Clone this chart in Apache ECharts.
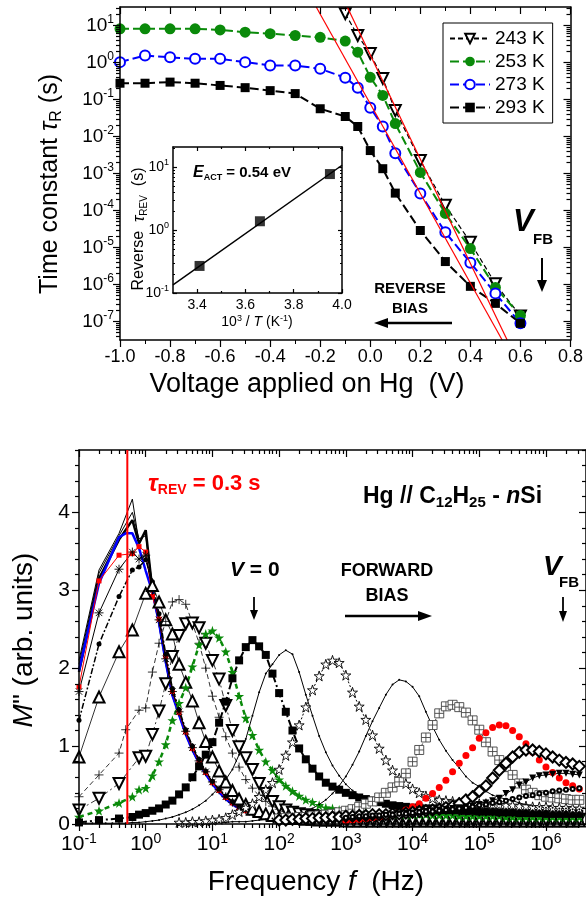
<!DOCTYPE html>
<html><head><meta charset="utf-8">
<script src="https://cdn.jsdelivr.net/npm/echarts@6/dist/echarts.min.js"></script>
<style>html,body{margin:0;padding:0;background:#fff}#c{width:586px;height:899px}</style>
</head><body><div id="c"></div><script>
const _ = null;
// ---------- TOP PANEL: time constant vs voltage (log10 of tau in s) ----------
const VOLTAGE_V = [-1.0,-0.9,-0.8,-0.7,-0.6,-0.5,-0.4,-0.3,-0.2,-0.1,-0.05,0.0,0.05,0.1,0.2,0.3,0.4,0.5,0.6];
const LOG10_TAU_243K = [_,_,_,_,_,_,_,_,_,1.32,0.73,0.24,-0.43,-1.30,-2.65,-3.86,-4.86,-5.98,-6.85];
const LOG10_TAU_253K = [0.91,0.91,0.91,0.91,0.88,0.82,0.78,0.73,0.68,0.58,0.28,-0.40,-0.89,-1.65,-2.97,-4.08,-5.03,-6.08,-6.84];
const LOG10_TAU_273K = [0.01,0.19,0.14,0.10,0.10,0.01,-0.08,-0.08,-0.17,-0.41,-0.68,-1.22,-1.73,-2.45,-3.54,-4.59,-5.41,-6.24,-7.05];
const LOG10_TAU_293K = [-0.56,-0.56,-0.53,-0.56,-0.62,-0.68,-0.76,-0.84,-1.25,-1.46,-1.73,-2.38,-2.87,-3.53,-4.54,-5.38,-6.05,-6.51,-7.05];
const FIT_A_V = [-0.216, 0.527], FIT_A_LOG10_TAU = [1.5, -7.5];
const FIT_B_V = [-0.092, 0.547], FIT_B_LOG10_TAU = [1.5, -7.5];
const TOP_Y_DECADES = [-7,-6,-5,-4,-3,-2,-1,0,1];
// inset: Arrhenius plot
const INSET_INV_T = [3.41, 3.66, 3.95];
const INSET_LOG10_TAU = [-0.57, 0.14, 0.89];
const INSET_FIT_INV_T = [3.3, 4.0], INSET_FIT_LOG10_TAU = [-0.87, 1.03];
const INSET_X_TICKS = [3.4, 3.6, 3.8, 4.0];
const INSET_X_MINOR = [3.5, 3.7, 3.9];
const INSET_Y_DECADES = [-1, 0, 1];
// ---------- BOTTOM PANEL: M'' vs log10(frequency / Hz) ----------
const BOT_X_DECADES = [-1,0,1,2,3,4,5,6];
const BOT_Y_TICKS = [0,1,2,3,4];
const BOT_Y_MINOR = [0.2,0.4,0.6,0.8,1.2,1.4,1.6,1.8,2.2,2.4,2.6,2.8,3.2,3.4,3.6,3.8,4.2,4.4,4.6,4.8];
const TAU_REV_LINE_FREQ_HZ = 0.53;
const LOG10_F_HZ = [
-1.0,-0.9,-0.8,-0.7,-0.6,-0.5,-0.4,-0.3,-0.2,-0.1,
0.0,0.1,0.2,0.3,0.4,0.5,0.6,0.7,0.8,0.9,
1.0,1.1,1.2,1.3,1.4,1.5,1.6,1.7,1.8,1.9,
2.0,2.1,2.2,2.3,2.4,2.5,2.6,2.7,2.8,2.9,
3.0,3.1,3.2,3.3,3.4,3.5,3.6,3.7,3.8,3.9,
4.0,4.1,4.2,4.3,4.4,4.5,4.6,4.7,4.8,4.9,
5.0,5.1,5.2,5.3,5.4,5.5,5.6,5.7,5.8,5.9,
6.0,6.1,6.2,6.3,6.4,6.5];
const M_REV_A = [2.10,_,_,3.26,_,_,3.73,_,4.17,3.60,
3.75,3.05,2.64,2.14,1.70,1.44,1.19,0.98,0.81,0.67,
0.54,0.44,0.35,0.28,0.22,0.18,0.14,0.12,0.10,0.08,
0.07,0.06,0.05,0.05,0.04];
const M_REV_B = [2.05,_,_,3.22,_,_,3.70,_,4.00,3.66,
3.70,3.03,2.62,2.12,1.68,1.43,1.18,0.97,0.80,0.66,
0.53,0.43,0.34,0.27,0.21,0.17,0.14,0.11,0.09,0.08,
0.07,0.06,0.05,0.04,0.04];
const M_REV_C = [1.95,_,_,3.15,_,_,3.65,_,3.90,3.60,
3.77,3.00,2.60,2.10,1.67,1.42,1.17,0.96,0.79,0.65,
0.52,0.42,0.33,0.26,0.21,0.17,0.13,0.11,0.09,0.07,
0.06,0.05,0.05,0.04];
const M_REV_BLUE = [1.97,_,_,3.09,_,_,3.68,3.73,3.73,3.54,
3.25,2.98,2.58,2.08,1.65,1.40,1.15,0.95,0.78,0.64,
0.51,0.41,0.32,0.25,0.20,0.16,0.13,0.11,0.10,0.11];
const M_REV_RED = [1.76,_,_,3.12,_,_,3.45,_,3.47,3.56,
3.49,2.92,2.63,2.15,1.70,1.43,1.18,0.97,0.80,0.66,
0.53,0.43,0.34,0.27,0.21,0.17,0.15,0.12,0.10,0.08,
0.07,0.06,0.05];
const M_REV_AST = [1.70,_,_,2.71,_,_,3.27,_,3.49,3.40,
3.45,3.00,2.62,2.12,1.70,1.44,1.19,0.98,0.81,0.67,
0.54,0.44,0.35,0.28,0.22,0.18,0.15,0.12,0.10,0.09,
0.08,0.07,0.06,0.06,0.05,0.05,0.05,0.04,0.04,0.04,
0.04,0.04,0.04,0.03,0.03,0.03,0.03,0.03,0.03,0.03,
0.03,0.03,0.03,0.03,0.03,0.03,0.03,0.03,0.03,0.03,
0.03,0.03,0.03,0.03,0.03,0.03,0.03,0.03,0.03,0.03,
0.03,0.03,0.03,0.03,0.03,0.03];
const M_REV_DOT = [1.33,_,_,2.31,_,_,2.92,_,3.26,3.30,
3.39,3.11,2.70,2.18,1.74,1.47,1.21,1.00,0.83,0.68,
0.55,0.45,0.36,0.29,0.23,0.19,0.15,0.13,0.11,0.09,
0.08,0.07,0.06,0.05,0.05,0.04,0.04,0.04,0.03,0.03,
0.03,0.03,0.02,0.02,0.02,0.02,0.02,0.02,0.02,0.02,
0.02,0.02,0.02,0.02,0.02,0.02,0.02,0.02,0.02,0.02,
0.02,0.02,0.02,0.02,0.02,0.02,0.02,0.02,0.02,0.02,
0.02,0.02,0.02,0.02,0.02,0.02];
const M_REV_TRI = [0.86,_,_,1.63,_,_,2.21,_,2.49,_,
2.96,3.06,2.85,2.62,2.44,2.05,1.82,1.58,1.30,1.06,
0.86,0.68,0.54,0.43,0.32,0.25,0.19,0.16,0.13,0.11,
0.09,0.08,0.07,0.07,0.06,0.06,0.05,0.05,0.05,0.05,
0.04,0.04,0.04,0.04,0.04,0.04,0.04,0.04,0.04,0.04,
0.04,0.04,0.04,0.04,0.04,0.04,0.04,0.04,0.04,0.04,
0.04,0.04,0.04,0.04,0.04,0.04,0.04,0.04,0.04,0.04,
0.04,0.04,0.04,0.04,0.04,0.04];
const M_PLUS = [0.35,_,_,0.63,_,_,0.91,1.21,_,1.46,
1.49,1.95,2.32,2.60,2.85,2.88,2.82,2.58,2.32,2.00,
1.64,1.37,1.12,0.91,0.73,0.57,0.46,0.36,0.29,0.23,
0.19,0.16,0.14,0.12,0.11,0.10,0.09,0.09,0.08,0.08,
0.07,0.07,0.07,0.06,0.06,0.06,0.06,0.06,0.05,0.05,
0.05,0.05,0.05,0.05,0.05,0.05,0.05,0.05,0.05,0.05,
0.05,0.05,0.05,0.05,0.05,0.05,0.05,0.05,0.05,0.05,
0.05,0.05,0.05,0.05,0.05,0.05];
const M_DTRI = [0.18,_,_,0.33,_,_,0.52,_,_,0.85,
0.87,1.15,1.45,1.80,2.15,2.42,2.57,2.58,2.52,2.32,
2.10,1.86,1.52,1.20,0.99,0.85,0.70,0.52,0.39,0.29,
0.22,0.18,0.15,0.13,0.12,0.11,0.10,0.09,0.08,0.08,
0.07,0.07,0.07,0.06,0.06,0.06,0.06,0.06,0.06,0.06,
0.06,0.06,0.06,0.06,0.06,0.06,0.06,0.06,0.06,0.06,
0.06,0.06,0.06,0.06,0.06,0.06,0.06,0.06,0.06,0.06,
0.06,0.06,0.06,0.06,0.06,0.06];
const M_STAR_GREEN = [0.09,_,_,0.17,_,_,0.27,_,0.35,0.44,
0.46,0.62,0.80,1.02,1.33,1.55,1.75,2.02,2.30,2.44,
2.48,2.39,2.21,1.95,1.64,1.36,1.14,0.95,0.80,0.69,
0.57,0.49,0.42,0.36,0.31,0.28,0.24,0.21,0.20,0.18,
0.17,0.16,0.16,0.15,0.14,0.14,0.13,0.13,0.13,0.12,
0.12,0.12,0.12,0.11,0.11,0.11,0.11,0.10,0.10,0.10,
0.10,0.10,0.10,0.10,0.09,0.09,0.09,0.09,0.09,0.09,
0.09,0.09,0.09,0.09,0.09,0.09];
const M_SQUARE_V0 = [0.02,_,_,0.05,_,_,0.07,_,0.09,0.12,
0.14,0.17,0.20,0.25,0.30,0.38,0.47,0.60,0.74,0.89,
1.05,1.30,1.57,1.87,2.10,2.27,2.36,2.28,2.17,1.93,
1.68,1.44,1.20,0.97,0.83,0.71,0.61,0.53,0.48,0.44,
0.40,0.37,0.34,0.32,0.30,0.28,0.26,0.24,0.23,0.22,
0.21,0.21,0.20,0.20,0.19,0.19,0.18,0.18,0.17,0.17,
0.16,0.16,0.16,0.15,0.15,0.15,0.14,0.14,0.14,0.14,
0.13,0.13,0.13,0.13,0.13,0.13];
const M_LINE_A = [0.01,0.01,0.01,0.01,0.01,0.01,0.01,0.01,0.02,0.02,
0.03,0.04,0.05,0.07,0.09,0.12,0.15,0.19,0.24,0.30,
0.38,0.47,0.57,0.70,0.89,1.09,1.39,1.69,1.93,2.05,
2.17,2.23,2.18,1.95,1.66,1.39,1.13,0.92,0.75,0.62,
0.51,0.43,0.37,0.32,0.29,0.26,0.24,0.22,0.20,0.18,
0.17,0.16,0.15,0.14,0.13,0.13,0.12,0.12,0.12,0.11,
0.11,0.11,0.11,0.10,0.10,0.10,0.10,0.10,0.10,0.10,
0.10,0.10,0.10,0.10,0.10,0.10];
const M_STAR_OPEN = [_,_,_,_,_,_,_,_,_,_,
_,_,_,_,_,0.02,0.02,0.03,0.03,0.04,
0.05,0.06,0.08,0.12,0.16,0.21,0.26,0.35,0.44,0.53,
0.70,0.88,1.05,1.27,1.50,1.72,1.90,2.05,2.10,2.07,
1.91,1.69,1.51,1.34,1.14,0.97,0.82,0.69,0.59,0.52,
0.45,0.40,0.36,0.33,0.31,0.30,0.29,0.28,0.27,0.27,
0.26,0.26,0.25,0.25,0.24,0.24,0.23,0.23,0.22,0.22,
0.22,0.21,0.21,0.21,0.20,0.20];
const M_LINE_B = [_,_,_,_,_,_,_,_,_,_,
_,_,_,_,_,_,_,_,_,_,
0.02,0.02,0.02,0.03,0.03,0.03,0.04,0.05,0.06,0.07,
0.08,0.09,0.11,0.13,0.16,0.20,0.25,0.31,0.39,0.49,
0.61,0.76,0.93,1.13,1.32,1.49,1.66,1.79,1.85,1.83,
1.76,1.64,1.44,1.25,1.08,0.94,0.82,0.72,0.61,0.53,
0.48,0.42,0.37,0.34,0.32,0.30,0.27,0.25,0.23,0.22,
0.21,0.21,0.20,0.20,0.19,0.19];
const M_BOXPLUS = [_,_,_,_,_,_,_,_,_,_,
_,_,_,_,_,_,_,_,_,_,
_,_,_,_,_,_,_,_,_,_,
0.07,0.08,0.08,0.09,0.09,0.10,0.11,0.12,0.13,0.15,
0.17,0.19,0.22,0.26,0.29,0.34,0.40,0.47,0.54,0.65,
0.80,0.95,1.11,1.27,1.42,1.51,1.53,1.50,1.43,1.33,
1.21,1.05,0.93,0.82,0.73,0.63,0.52,0.44,0.40,0.37,
0.35,0.34,0.33,0.32,0.31,0.31];
const M_RED_CIRCLE = [_,_,_,_,_,_,_,_,_,_,
_,_,_,_,_,_,_,_,_,_,
_,_,_,_,_,_,_,_,_,_,
_,_,_,_,_,_,_,_,_,_,
0.04,0.05,0.06,0.07,0.08,0.09,0.10,0.12,0.15,0.18,
0.22,0.26,0.33,0.39,0.47,0.56,0.67,0.78,0.88,0.98,
1.10,1.17,1.24,1.27,1.26,1.20,1.12,1.03,0.92,0.82,
0.73,0.66,0.59,0.53,0.49,0.45];
const M_DIAMOND = [_,_,_,_,_,_,_,_,_,_,
_,_,_,_,_,_,_,_,_,_,
_,_,_,_,_,_,_,_,_,_,
0.05,0.05,0.06,0.06,0.07,0.07,0.08,0.08,0.09,0.09,
0.10,0.10,0.11,0.11,0.12,0.12,0.12,0.13,0.13,0.14,
0.15,0.16,0.17,0.18,0.19,0.21,0.23,0.26,0.31,0.35,
0.42,0.49,0.59,0.69,0.78,0.86,0.92,0.95,0.95,0.93,
0.90,0.86,0.82,0.79,0.77,0.74];
const M_FILLED_DTRI = [_,_,_,_,_,_,_,_,_,_,
_,_,_,_,_,_,_,_,_,_,
_,_,_,_,_,_,_,_,_,_,
_,_,_,_,_,_,_,_,_,_,
0.06,0.07,0.07,0.08,0.09,0.10,0.11,0.12,0.13,0.14,
0.14,0.15,0.16,0.17,0.18,0.19,0.20,0.21,0.22,0.23,
0.25,0.27,0.30,0.33,0.39,0.44,0.50,0.54,0.59,0.62,
0.63,0.64,0.65,0.65,0.64,0.63];
const M_SMALL_CIRCLE = [_,_,_,_,_,_,_,_,_,_,
_,_,_,_,_,_,_,_,_,_,
_,_,_,_,_,_,_,_,_,_,
_,_,_,_,_,_,_,_,_,_,
0.08,0.09,0.10,0.10,0.11,0.11,0.12,0.12,0.13,0.13,
0.14,0.15,0.16,0.16,0.17,0.18,0.19,0.20,0.21,0.22,
0.24,0.25,0.27,0.28,0.30,0.32,0.34,0.36,0.37,0.39,
0.40,0.42,0.43,0.44,0.45,0.46];

// ---------- helpers ----------
const FONT = 'Arial, "Liberation Sans", Helvetica, sans-serif';
const GREEN = '#0a8a0a', BLUE = '#0000ff', RED = '#ff0000';
function pts(xs, ys){ const o=[]; for(let i=0;i<ys.length;i++){ if(ys[i]!=null) o.push([xs[i], ys[i]]); } return o; }
function logMinor(lo, hi){ const o=[]; for(let n=Math.floor(lo)-1;n<=Math.ceil(hi);n++){ for(let k=2;k<=9;k++){ const v=n+Math.log10(k); if(v>lo+1e-6 && v<hi-1e-6) o.push(v);} } return o; }
function supRich(b, e, eLH){ return { b:{fontSize:b, fontFamily:FONT, color:'#000', lineHeight:b+4}, e:{fontSize:e, fontFamily:FONT, color:'#000', verticalAlign:'top', lineHeight:eLH} }; }
const supFmt = v => '{b|10}{e|' + Math.round(v) + '}';
function mkAxis(o){
  const a = { type:'value', gridIndex:o.g, min:o.min, max:o.max, position:o.pos,
    axisLine:{show:o.line!==false, onZero:false, lineStyle:{color:'#000', width:1.5}},
    axisTick:{show:true, inside:!!o.inside, length:o.len, lineStyle:{color:'#000', width:o.tw||1.2}},
    axisLabel:{show:false}, splitLine:{show:false}, minorSplitLine:{show:false}, z:5 };
  if(o.interval!=null) a.interval=o.interval;
  if(o.ticks) a.axisTick.customValues=o.ticks;
  if(o.minor) a.minorTick={show:true, splitNumber:o.minor, length:o.minorLen, lineStyle:{color:'#000', width:1}};
  if(o.label) a.axisLabel=Object.assign({show:true, color:'#000', fontFamily:FONT}, o.label);
  return a;
}
const topMinorY = logMinor(-7.5, 1.5), insetMinorY = logMinor(-1, 1.32), botMinorX = logMinor(-1, 6.6);
const xAxes = [
  mkAxis({g:0,min:-1,max:0.8,interval:0.2,pos:'bottom',len:7,minor:2,minorLen:4,
    label:{fontSize:18,margin:8,formatter:v=>(Math.abs(v)<1e-9?0:v).toFixed(1)}}),
  mkAxis({g:0,min:-1,max:0.8,interval:0.2,pos:'top',inside:true,len:7,minor:2,minorLen:4}),
  mkAxis({g:1,min:3.3,max:4.0,pos:'bottom',inside:true,len:4,ticks:INSET_X_TICKS,
    label:{customValues:INSET_X_TICKS,fontSize:14,margin:5,formatter:v=>v.toFixed(1)}}),
  mkAxis({g:1,min:3.3,max:4.0,pos:'bottom',inside:true,line:false,len:2,ticks:INSET_X_MINOR}),
  mkAxis({g:1,min:3.3,max:4.0,pos:'top',inside:true,len:4,ticks:INSET_X_TICKS}),
  mkAxis({g:1,min:3.3,max:4.0,pos:'top',inside:true,line:false,len:2,ticks:INSET_X_MINOR}),
  mkAxis({g:2,min:-1,max:6.6,pos:'bottom',len:7,ticks:BOT_X_DECADES,
    label:{customValues:BOT_X_DECADES,formatter:supFmt,margin:8,rich:supRich(21,14,10)}}),
  mkAxis({g:2,min:-1,max:6.6,pos:'bottom',line:false,len:4,ticks:botMinorX}),
  mkAxis({g:2,min:-1,max:6.6,pos:'top',inside:true,len:7,ticks:BOT_X_DECADES}),
  mkAxis({g:2,min:-1,max:6.6,pos:'top',inside:true,line:false,len:4,ticks:botMinorX})
];
const yAxes = [
  mkAxis({g:0,min:-7.5,max:1.5,pos:'left',len:7,ticks:TOP_Y_DECADES,
    label:{customValues:TOP_Y_DECADES,formatter:supFmt,margin:6,rich:supRich(19,12,10)}}),
  mkAxis({g:0,min:-7.5,max:1.5,pos:'left',line:false,len:4,ticks:topMinorY}),
  mkAxis({g:0,min:-7.5,max:1.5,pos:'right',inside:true,len:7,ticks:TOP_Y_DECADES}),
  mkAxis({g:0,min:-7.5,max:1.5,pos:'right',inside:true,line:false,len:4,ticks:topMinorY}),
  mkAxis({g:1,min:-1,max:1.32,pos:'left',inside:true,len:4,ticks:INSET_Y_DECADES,
    label:{customValues:INSET_Y_DECADES,formatter:supFmt,margin:4,rich:supRich(14,9,7)}}),
  mkAxis({g:1,min:-1,max:1.32,pos:'left',inside:true,line:false,len:2,ticks:insetMinorY}),
  mkAxis({g:1,min:-1,max:1.32,pos:'right',inside:true,len:4,ticks:INSET_Y_DECADES}),
  mkAxis({g:1,min:-1,max:1.32,pos:'right',inside:true,line:false,len:2,ticks:insetMinorY}),
  mkAxis({g:2,min:0,max:4.8,pos:'left',len:7,ticks:BOT_Y_TICKS,
    label:{customValues:BOT_Y_TICKS,fontSize:21,margin:9}}),
  mkAxis({g:2,min:0,max:4.8,pos:'left',line:false,len:4,ticks:BOT_Y_MINOR}),
  mkAxis({g:2,min:0,max:4.8,pos:'right',inside:true,len:7,ticks:BOT_Y_TICKS}),
  mkAxis({g:2,min:0,max:4.8,pos:'right',inside:true,line:false,len:4,ticks:BOT_Y_MINOR})
];

// symbols
const STAR = 'path://M0,-10L2.25,-3.09L9.51,-3.09L3.63,1.18L5.88,8.09L0,3.82L-5.88,8.09L-3.63,1.18L-9.51,-3.09L-2.25,-3.09Z';
const PLUS = 'path://M-5,0L5,0M0,-5L0,5';
const ASTER = 'path://M-5,0L5,0M0,-5L0,5M-3.6,-3.6L3.6,3.6M-3.6,3.6L3.6,-3.6';
const BOXPLUS = 'path://M-5,-5L5,-5L5,5L-5,5ZM-5,0L5,0M0,-5L0,5';

function topSeries(name, ys, sym, size, color, lw, dash, extra){
  return Object.assign({ name, type:'line', xAxisIndex:0, yAxisIndex:0, data:pts(VOLTAGE_V, ys),
    symbol:sym, symbolSize:size, itemStyle:{color, borderWidth:1.5}, lineStyle:{color, width:lw, type:dash},
    connectNulls:true, animation:false, z:3 }, extra||{});
}
function bot(name, ys, o){
  return { name, type:'line', xAxisIndex:6, yAxisIndex:8, data:pts(LOG10_F_HZ, ys), connectNulls:true,
    symbol:o.sym||'none', symbolSize:o.size||6, symbolRotate:o.rot||0,
    itemStyle:Object.assign({color:o.color||'#000'}, o.item||{}),
    lineStyle:{color:o.lc||o.color||'#000', width:o.lw==null?1:o.lw, type:o.dash||'solid', opacity:o.lw===0?0:1},
    animation:false, silent:true, z:o.z||2 };
}

const series = [
  topSeries('243 K', LOG10_TAU_243K, 'emptyTriangle', 11, '#000', 1.2, [5,3], {symbolRotate:180}),
  topSeries('253 K', LOG10_TAU_253K, 'circle', 11, GREEN, 2, [9,4]),
  topSeries('273 K', LOG10_TAU_273K, 'emptyCircle', 10, BLUE, 2, [9,4]),
  topSeries('293 K', LOG10_TAU_293K, 'rect', 9, '#000', 2, [9,4]),
  { name:'fitA', type:'line', xAxisIndex:0, yAxisIndex:0, data:pts(FIT_A_V, FIT_A_LOG10_TAU), symbol:'none',
    lineStyle:{color:RED, width:1.2}, animation:false, silent:true, z:4 },
  { name:'fitB', type:'line', xAxisIndex:0, yAxisIndex:0, data:pts(FIT_B_V, FIT_B_LOG10_TAU), symbol:'none',
    lineStyle:{color:RED, width:1.2}, animation:false, silent:true, z:4 },
  { name:'insetFit', type:'line', xAxisIndex:2, yAxisIndex:4, data:pts(INSET_FIT_INV_T, INSET_FIT_LOG10_TAU), symbol:'none',
    lineStyle:{color:'#000', width:1.5}, animation:false, silent:true, z:6 },
  { name:'insetPts', type:'scatter', xAxisIndex:2, yAxisIndex:4, data:pts(INSET_INV_T, INSET_LOG10_TAU), symbol:'rect',
    symbolSize:10, itemStyle:{color:'#000'}, animation:false, silent:true, z:7 },
  // bottom panel
  bot('revA', M_REV_A, {lw:1}),
  bot('revB', M_REV_B, {lw:1}),
  bot('revC', M_REV_C, {lw:2.5}),
  bot('revBlue', M_REV_BLUE, {color:BLUE, lw:2.5}),
  bot('revRed', M_REV_RED, {color:RED, lw:1, sym:'rect', size:5}),
  bot('revAst', M_REV_AST, {lw:1, sym:ASTER, size:9, item:{borderColor:'#000', borderWidth:0.9}}),
  bot('revDot', M_REV_DOT, {lw:1.5, dash:[6,2,2,2], sym:'circle', size:5}),
  bot('revTri', M_REV_TRI, {lw:0.8, sym:'emptyTriangle', size:11, item:{borderWidth:0.8}}),
  bot('plus', M_PLUS, {lw:0.8, dash:[5,3], sym:PLUS, size:9, item:{borderColor:'#000', borderWidth:0.8}}),
  bot('dtri', M_DTRI, {lw:0.8, dash:[6,3,2,3], sym:'emptyTriangle', rot:180, size:11, item:{borderWidth:0.8}}),
  bot('greenStar', M_STAR_GREEN, {color:GREEN, lw:2.5, dash:[5,4], sym:STAR, size:10}),
  bot('squareV0', M_SQUARE_V0, {lw:2, dash:[8,3,2,3], sym:'rect', size:8}),
  bot('lineA', M_LINE_A, {lw:1, sym:'circle', size:2}),
  bot('starOpen', M_STAR_OPEN, {lw:1, dash:[2,2], sym:STAR, size:10, item:{color:'#fff', borderColor:'#000', borderWidth:0.9}}),
  bot('lineB', M_LINE_B, {lw:1, sym:'circle', size:2}),
  bot('boxPlus', M_BOXPLUS, {lc:'#444', lw:1, dash:[2,2], sym:BOXPLUS, size:9, item:{color:'#fff', borderColor:'#444', borderWidth:0.9}}),
  bot('redCircle', M_RED_CIRCLE, {color:RED, lw:0, sym:'circle', size:7}),
  bot('diamond', M_DIAMOND, {lw:0.8, sym:'emptyDiamond', size:11, item:{borderWidth:1}}),
  bot('filledDtri', M_FILLED_DTRI, {lw:1, sym:'triangle', rot:180, size:7}),
  bot('smallCircle', M_SMALL_CIRCLE, {lw:0.8, sym:'emptyCircle', size:4, item:{borderWidth:0.8}}),
  { name:'tauRev', type:'line', xAxisIndex:6, yAxisIndex:8,
    data:[[Math.log10(TAU_REV_LINE_FREQ_HZ), 0],[Math.log10(TAU_REV_LINE_FREQ_HZ), 4.8]],
    symbol:'none', lineStyle:{color:RED, width:2}, animation:false, silent:true, z:9 }
];

// graphics
function R(o){ const r={}; for(const k in o){ r[k]=Object.assign({fontFamily:FONT}, o[k]); } return r; }
function T(x, y, text, o){
  o = o||{};
  return { type:'text', x, y, rotation:o.rot||0, z:100, silent:true,
    style:{ text, fill:o.fill||'#000', fontFamily:FONT, fontSize:o.fs||16, fontWeight:o.fw||'normal',
      fontStyle:o.fst||'normal', align:o.align||'center', verticalAlign:o.va||'middle',
      rich: o.rich ? R(Object.fromEntries(Object.entries(o.rich).map(([k,v])=>[k, Object.assign({fill:o.fill||'#000'}, v)]))) : undefined } };
}
function L(x1,y1,x2,y2,w){ return {type:'line', z:100, silent:true, shape:{x1,y1,x2,y2}, style:{stroke:'#000', lineWidth:w||2}}; }
function P(points){ return {type:'polygon', z:100, silent:true, shape:{points}, style:{fill:'#000'}}; }

const graphics = [
  T(50, 184, '{n|Time constant }{g|τ}{s|R}{n| (s)}', {rot:Math.PI/2,
    rich:{n:{fontSize:25,lineHeight:30}, g:{fontSize:25,fontStyle:'italic',lineHeight:30}, s:{fontSize:16,lineHeight:6,verticalAlign:'bottom'}}}),
  T(307, 385, 'Voltage applied on Hg  (V)', {fs:27}),
  T(513, 222, 'V', {fs:31, fw:'bold', fst:'italic', align:'left'}),
  T(533, 240, 'FB', {fs:15, fw:'bold', align:'left'}),
  L(542,258,542,282,2), P([[542,292],[537,280],[547,280]]),
  T(410, 289, 'REVERSE', {fs:15, fw:'bold'}),
  T(410, 309, 'BIAS', {fs:15, fw:'bold'}),
  L(452,323,386,323,2.5), P([[374,323],[388,318],[388,328]]),
  T(193, 173, '{i|E}{s|ACT}{n| = 0.54 eV}', {align:'left',
    rich:{i:{fontSize:16,fontWeight:'bold',fontStyle:'italic',lineHeight:18}, s:{fontSize:9,fontWeight:'bold',lineHeight:4,verticalAlign:'bottom'}, n:{fontSize:15,fontWeight:'bold',lineHeight:18}}}),
  T(139, 229, '{n|Reverse  }{g|τ}{s|REV}{n|  (s)}', {rot:Math.PI/2,
    rich:{n:{fontSize:16,lineHeight:20}, g:{fontSize:17,fontStyle:'italic',lineHeight:20}, s:{fontSize:10,lineHeight:4,verticalAlign:'bottom'}}}),
  T(257, 322, '{n|10}{p|3}{n| / }{i|T}{n| (K}{p|-1}{n|)}', {
    rich:{n:{fontSize:14,lineHeight:16}, i:{fontSize:14,fontStyle:'italic',lineHeight:16}, p:{fontSize:9,lineHeight:6,verticalAlign:'top'}}}),
  // bottom panel
  T(24, 640, '{i|M}{n|" (arb. units)}', {rot:Math.PI/2,
    rich:{i:{fontSize:28,fontStyle:'italic',lineHeight:32}, n:{fontSize:28,lineHeight:32}}}),
  T(316, 882, '{n|Frequency }{i|f}{n|  (Hz)}', {
    rich:{i:{fontSize:28,fontStyle:'italic',lineHeight:32}, n:{fontSize:28,lineHeight:32}}}),
  T(148, 484, '{g|τ}{s|REV}{n| = 0.3 s}', {fill:RED, align:'left',
    rich:{g:{fontSize:24,fontWeight:'bold',fontStyle:'italic',lineHeight:26}, s:{fontSize:14,fontWeight:'bold',lineHeight:6,verticalAlign:'bottom'}, n:{fontSize:22,fontWeight:'bold',lineHeight:26}}}),
  T(363, 497, '{n|Hg // C}{s|12}{n|H}{s|25}{n| - }{i|n}{n|Si}', {align:'left',
    rich:{n:{fontSize:23,fontWeight:'bold',lineHeight:26}, i:{fontSize:23,fontWeight:'bold',fontStyle:'italic',lineHeight:26}, s:{fontSize:15,fontWeight:'bold',lineHeight:6,verticalAlign:'bottom'}}}),
  T(230, 570, '{i|V}{n| = 0}', {align:'left',
    rich:{i:{fontSize:21,fontWeight:'bold',fontStyle:'italic',lineHeight:24}, n:{fontSize:21,fontWeight:'bold',lineHeight:24}}}),
  L(254,597,254,612,1.8), P([[254,620],[250,610],[258,610]]),
  T(387, 571, 'FORWARD', {fs:18, fw:'bold'}),
  T(387, 596, 'BIAS', {fs:18, fw:'bold'}),
  L(345,616,420,616,2.5), P([[432,616],[418,611],[418,621]]),
  T(543, 567, 'V', {fs:28, fw:'bold', fst:'italic', align:'left'}),
  T(559, 583, 'FB', {fs:15, fw:'bold', align:'left'}),
  L(563,597,563,613,1.8), P([[563,622],[559,611],[567,611]])
];

const chart = echarts.init(document.getElementById('c'), null, {renderer:'canvas', width:586, height:899});
chart.setOption({
  animation:false,
  backgroundColor:'#fff',
  textStyle:{fontFamily:FONT},
  grid:[
    {left:120, top:7, width:452, height:333},
    {left:173, top:147, width:169, height:146, show:true, backgroundColor:'#fff', borderWidth:0, z:4},
    {left:79, top:450, width:508, height:374}
  ],
  legend:{ data:['243 K','253 K','273 K','293 K'], orient:'vertical', left:443, top:23,
    padding:[6,8,6,6], itemGap:4, itemWidth:40, itemHeight:12, borderColor:'#000', borderWidth:1,
    backgroundColor:'#fff', textStyle:{fontSize:19, fontFamily:FONT, color:'#000', lineHeight:19}, selectedMode:false },
  xAxis:xAxes, yAxis:yAxes, series, graphic:graphics
});
</script></body></html>
